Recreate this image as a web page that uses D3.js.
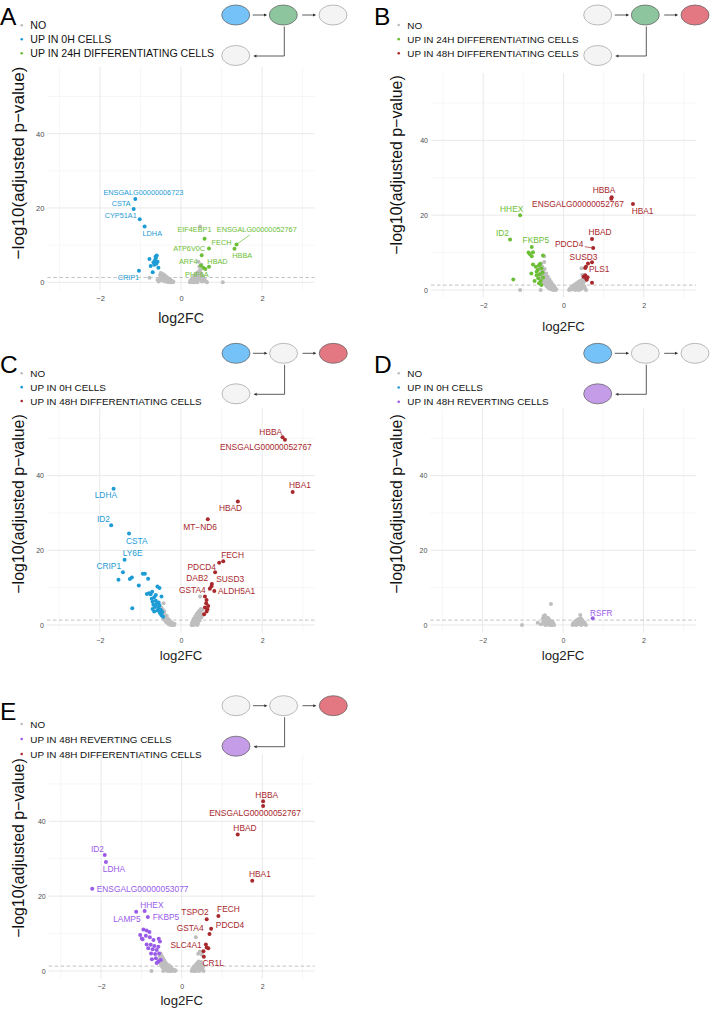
<!DOCTYPE html>
<html><head><meta charset="utf-8">
<script src="https://cdn.jsdelivr.net/npm/d3@7"></script>
<style>
body{margin:0;background:#fff}
svg{display:block}
text{font-family:"Liberation Sans",Arial,Helvetica,sans-serif}
</style>
</head><body>
<svg id="chart" width="712" height="1010"></svg>
<script>
// ---------- shared axis definitions ----------
const xDomain = [-3.3, 3.3];
const yDomain = [-2.07, 58];
const xTicks = [-2, 0, 2];
const xMinor = [-3, -1, 1, 3];
const yTicks = [0, 20, 40];
const yMinor = [10, 30, 50];
const threshold = 1.3;
const xTitle = "log2FC";
const yTitle = "\u2212log10(adjusted p\u2212value)";

const categoryNames = {
  NO: "NO",
  "0H": "UP IN 0H CELLS",
  "24D": "UP IN 24H DIFFERENTIATING CELLS",
  "48D": "UP IN 48H DIFFERENTIATING CELLS",
  "48R": "UP IN 48H REVERTING CELLS"
};

// ---------- data: panel A (0H vs 24H differentiating) ----------
const panelA_gray = [[-0.52,2.0],[-0.51,1.2],[-0.50,2.5],[-0.49,0.6],[-0.48,1.8],[-0.47,2.3],[-0.46,1.0],[-0.45,1.6],[-0.44,0.4],[-0.43,2.1],[-0.42,1.3],[-0.41,0.8],[-0.40,1.8],[-0.39,0.2],[-0.38,1.1],[-0.37,1.5],[-0.36,0.5],[-0.35,0.9],[-0.34,1.3],[-0.33,0.1],[-0.32,0.7],[-0.31,1.0],[-0.30,0.3],[-0.29,0.6],[-0.28,0.0],[-0.27,0.8],[-0.26,0.2],[-0.25,0.5],[-0.24,0.0],[-0.23,0.3],[-0.22,0.1],[-0.20,0.0],[-0.19,0.2],[-0.78,1.2],[-0.58,0.6],[-0.55,0.2],
  [0.22,0.0],[0.23,0.4],[0.25,0.1],[0.26,0.8],[0.27,0.3],[0.28,1.1],[0.29,0.0],[0.30,0.6],[0.31,1.4],[0.32,0.2],[0.33,1.0],[0.34,1.8],[0.35,0.4],[0.36,1.3],[0.37,2.2],[0.38,0.7],[0.39,1.6],[0.40,2.6],[0.41,0.2],[0.42,1.2],[0.43,2.0],[0.44,3.0],[0.45,0.9],[0.46,1.7],[0.47,2.6],[0.48,3.3],[0.49,1.3],[0.50,2.2],[0.52,0.6],[0.53,1.6],[0.55,0.3],[0.58,0.9],[0.62,0.2],[0.64,0.0],[0.47,15.0],[0.43,5.5],[0.50,4.8],[0.45,4.2],[1.03,0.0],[0.51,0.2],[0.40,0.0],[0.33,0.0]];
const panelA_cat1 = [[-0.78,6.3],[-0.75,4.4],[-0.70,2.7],[-0.68,5.4],[-0.66,4.7],[-0.64,6.0],[-0.62,6.6],[-0.60,7.2],[-0.58,5.5],[-0.56,3.9],[-0.63,6.9],[-0.61,5.0]];
const panelA_cat2 = [[0.60,3.6]];
// [gene, category, log2FC, -log10 p, label log2FC, label -log10 p, segment]
const panelA_genes = [
  ["ENSGALG00000006723","0H",-1.13,22.4,-0.93,24.2,0],
  ["CSTA","0H",-1.17,19.7,-1.48,21.1,0],
  ["CYP51A1","0H",-1.02,17.0,-1.49,17.9,0],
  ["LDHA","0H",-0.90,15.0,-0.71,13.1,0],
  ["CRIP1","0H",-1.04,3.1,-1.30,1.3,0],
  ["EIF4EBP1","24D",0.58,11.7,0.33,14.1,0],
  ["FECH","24D",0.69,9.1,1.00,10.8,0],
  ["ATP6V0C","24D",0.51,7.3,0.20,9.1,0],
  ["ENSGALG00000052767","24D",1.37,10.2,1.87,14.1,1],
  ["HBBA","24D",1.32,9.0,1.51,7.1,0],
  ["HBAD","24D",0.69,4.2,0.90,5.7,0],
  ["ARF4","24D",0.49,4.5,0.18,5.7,0],
  ["PHF6A","24D",0.55,3.9,0.39,2.0,0]
];

// ---------- data: panel B (24H vs 48H differentiating) ----------
const panelB_gray = [[-0.62,5.5],[-0.60,6.5],[-0.59,4.2],[-0.58,5.8],[-0.57,3.3],[-0.56,7.0],[-0.55,4.8],[-0.54,2.6],[-0.53,6.2],[-0.52,3.9],[-0.51,5.2],[-0.50,2.0],[-0.49,4.4],[-0.48,9.0],[-0.48,3.0],[-0.47,5.6],[-0.46,1.5],[-0.45,3.6],[-0.44,2.4],[-0.43,4.4],[-0.42,1.0],[-0.41,2.9],[-0.40,1.8],[-0.39,3.5],[-0.38,0.6],[-0.37,2.2],[-0.36,1.3],[-0.35,2.8],[-0.34,0.3],[-0.33,1.7],[-0.32,0.9],[-0.31,2.1],[-0.30,0.2],[-0.29,1.2],[-0.28,0.5],[-0.27,1.5],[-0.26,0.0],[-0.25,0.8],[-0.24,0.3],[-0.23,1.0],[-0.22,0.1],[-0.21,0.5],[-0.20,0.0],[-0.18,0.2],[-1.08,0.0],[-0.57,0.0],[-0.48,7.5],
  [0.14,0.0],[0.16,0.3],[0.18,0.1],[0.19,0.6],[0.21,0.2],[0.22,0.9],[0.24,0.4],[0.25,1.2],[0.27,0.1],[0.28,0.7],[0.29,1.5],[0.31,0.3],[0.32,1.0],[0.33,1.8],[0.35,0.5],[0.36,1.3],[0.37,2.1],[0.39,0.8],[0.40,1.6],[0.41,2.4],[0.43,0.2],[0.44,1.1],[0.45,1.9],[0.46,2.7],[0.48,0.6],[0.49,1.4],[0.50,2.2],[0.52,0.9],[0.54,0.3],[0.56,0.0],[0.47,4.0],[0.52,2.4],[0.50,3.2],[0.45,5.8],[0.30,0.0],[0.38,0.0]];
const panelB_cat1 = [[-0.87,10.0],[-0.84,9.6],[-0.79,9.0],[-0.76,10.1],[-0.51,9.2],[-1.25,2.8],[-0.76,6.8],[-0.69,6.2],[-0.61,6.6],[-0.55,5.8],[-0.80,4.4],[-0.67,4.9],[-0.59,4.2],[-0.52,4.7],[-0.72,2.4],[-0.63,3.1],[-0.57,2.4],[-0.51,3.3],[-0.61,1.8],[-0.55,1.3],[-0.67,3.9],[-0.64,5.4],[-0.58,7.0]];
const panelB_cat2 = [[0.56,6.2],[0.54,5.9],[0.50,3.5],[0.56,3.1],[0.58,2.7],[0.54,3.9],[0.71,1.9],[0.60,3.4]];
const panelB_genes = [
  ["HHEX","24D",-1.08,20.0,-1.29,21.7,0],
  ["ID2","24D",-1.33,13.5,-1.52,15.1,0],
  ["FKBP5","24D",-0.79,11.5,-0.69,13.3,0],
  ["HBBA","48D",1.20,24.8,1.01,26.6,0],
  ["ENSGALG00000052767","48D",1.19,24.4,0.36,22.9,0],
  ["HBA1","48D",1.73,23.0,1.97,21.1,0],
  ["HBAD","48D",0.71,13.6,0.91,15.5,0],
  ["PDCD4","48D",0.74,11.2,0.14,12.2,1],
  ["SUSD3","48D",0.61,7.1,0.50,8.9,0],
  ["PLS1","48D",0.71,7.4,0.89,5.5,0]
];

// ---------- data: panel C (0H vs 48H differentiating) ----------
const panelC_gray = [[-0.50,4.0],[-0.48,4.6],[-0.47,3.6],[-0.46,2.9],[-0.45,4.1],[-0.44,3.3],[-0.44,2.2],[-0.43,1.6],[-0.42,2.8],[-0.41,3.7],[-0.40,2.0],[-0.39,1.2],[-0.38,2.6],[-0.37,0.8],[-0.36,1.8],[-0.35,2.4],[-0.34,1.1],[-0.33,0.5],[-0.32,1.6],[-0.31,0.9],[-0.30,0.2],[-0.29,1.3],[-0.28,0.6],[-0.27,0.1],[-0.26,0.9],[-0.25,0.4],[-0.24,0.0],[-0.23,0.6],[-0.22,0.2],[-0.21,0.0],[-0.20,0.4],[-0.19,0.1],[-0.17,0.0],[-0.16,0.3],[-0.43,5.8],
  [0.26,0.0],[0.27,0.5],[0.28,0.2],[0.29,1.0],[0.30,0.3],[0.31,1.6],[0.32,0.7],[0.33,0.1],[0.34,1.2],[0.35,2.2],[0.36,0.5],[0.37,1.7],[0.38,2.8],[0.39,1.0],[0.40,2.2],[0.41,3.3],[0.42,0.4],[0.43,1.6],[0.44,2.7],[0.45,3.8],[0.46,1.2],[0.47,2.3],[0.48,3.2],[0.49,4.3],[0.50,2.0],[0.51,3.0],[0.52,4.0],[0.53,2.6],[0.47,7.6],[0.30,0.0],[0.40,0.0]];
const panelC_cat1 = [[-1.54,12.1],[-1.26,12.3],[-1.21,12.7],[-0.94,13.7],[-0.89,13.7],[-1.04,10.6],[-0.81,12.4],[-1.20,4.5],[-0.84,8.3],[-0.79,8.5],[-0.75,8.2],[-0.71,8.9],[-0.58,10.3],[-0.53,9.9],[-0.48,7.6],[-0.72,7.0],[-0.70,6.2],[-0.68,5.4],[-0.66,7.4],[-0.64,4.8],[-0.62,6.5],[-0.60,5.6],[-0.58,3.9],[-0.56,4.6],[-0.55,6.0],[-0.52,3.2],[-0.50,4.1],[-0.48,2.6],[-0.46,3.5],[-0.44,2.2],[-0.70,4.3],[-0.66,3.6],[-0.62,8.0],[-0.53,5.2]];
const panelC_cat2 = [[0.94,16.7],[0.59,7.6],[0.63,6.7],[0.62,5.8],[0.67,5.1],[0.59,4.7],[0.65,4.2],[0.57,2.9],[0.63,3.6]];
const panelC_genes = [
  ["LDHA","0H",-1.66,36.5,-1.85,34.7,0],
  ["ID2","0H",-1.72,26.7,-1.91,28.4,0],
  ["CSTA","0H",-1.28,24.5,-1.09,22.6,0],
  ["LY6E","0H",-1.39,17.5,-1.19,19.2,0],
  ["CRIP1","0H",-1.43,14.1,-1.78,15.7,0],
  ["HBBA","48D",2.50,50.3,2.21,51.8,0],
  ["ENSGALG00000052767","48D",2.56,49.6,2.09,47.6,0],
  ["HBA1","48D",2.75,35.6,2.93,37.4,0],
  ["HBAD","48D",1.40,33.1,1.22,31.4,0],
  ["MT\u2212ND6","48D",0.66,28.3,0.47,26.3,0],
  ["FECH","48D",1.04,17.1,1.27,18.8,0],
  ["PDCD4","48D",0.84,14.1,0.51,15.6,0],
  ["DAB2","48D",0.76,11.0,0.40,12.5,0],
  ["SUSD3","48D",0.75,10.4,1.21,12.2,0],
  ["GSTA4","48D",0.71,9.7,0.28,9.3,0],
  ["ALDH5A1","48D",0.82,9.1,1.37,9.1,0]
];

// ---------- data: panel D (0H vs 48H reverting) ----------
const panelD_gray = [[-1.02,0.0],[-0.63,0.6],[-0.30,5.6],[-0.50,1.8],[-0.49,0.9],[-0.48,2.4],[-0.47,0.3],[-0.46,1.4],[-0.45,2.6],[-0.44,0.0],[-0.43,1.0],[-0.42,2.0],[-0.41,0.5],[-0.40,1.5],[-0.39,0.1],[-0.38,1.1],[-0.37,1.9],[-0.36,0.3],[-0.35,0.8],[-0.34,1.4],[-0.33,0.0],[-0.32,0.6],[-0.31,1.0],[-0.30,0.2],[-0.29,0.7],[-0.28,0.0],[-0.27,0.4],[-0.26,0.9],[-0.25,0.1],[-0.24,0.3],[-0.22,0.0],[-0.55,0.2],
  [0.24,0.0],[0.25,0.4],[0.27,0.1],[0.28,0.7],[0.30,0.2],[0.31,1.0],[0.33,0.0],[0.34,0.5],[0.35,1.3],[0.37,0.2],[0.38,0.8],[0.39,1.6],[0.41,0.4],[0.42,1.1],[0.43,2.7],[0.44,1.8],[0.45,0.0],[0.46,0.7],[0.47,1.4],[0.49,0.2],[0.50,0.9],[0.52,0.3],[0.54,0.6],[0.57,0.0]];
const panelD_cat1 = [];
const panelD_cat2 = [];
const panelD_genes = [["RSFR","48R",0.74,1.8,0.95,3.3,0]];

// ---------- data: panel E (48H reverting vs 48H differentiating) ----------
const panelE_gray = [[-0.75,0.0],[-0.56,3.0],[-0.55,4.2],[-0.54,2.2],[-0.53,3.6],[-0.52,4.7],[-0.51,1.6],[-0.50,2.9],[-0.49,3.9],[-0.48,1.0],[-0.47,2.4],[-0.46,3.3],[-0.45,0.6],[-0.44,1.8],[-0.43,2.8],[-0.42,0.3],[-0.41,1.3],[-0.40,2.2],[-0.39,0.1],[-0.38,0.9],[-0.37,1.8],[-0.36,0.4],[-0.35,1.3],[-0.34,0.0],[-0.33,0.8],[-0.32,1.5],[-0.31,0.3],[-0.30,1.0],[-0.29,0.0],[-0.28,0.6],[-0.27,1.1],[-0.26,0.2],[-0.25,0.7],[-0.24,0.0],[-0.23,0.4],[-0.21,0.1],[-0.19,0.3],[-0.17,0.0],[-0.15,0.1],[-0.46,0.0],
  [0.25,0.0],[0.26,0.4],[0.27,0.1],[0.28,0.8],[0.29,0.3],[0.30,1.1],[0.31,0.0],[0.32,0.6],[0.33,1.4],[0.34,0.2],[0.35,9.0],[0.35,0.9],[0.36,1.8],[0.37,0.4],[0.38,1.3],[0.39,2.1],[0.40,0.7],[0.41,4.6],[0.41,1.6],[0.42,2.5],[0.43,0.2],[0.44,1.1],[0.45,5.2],[0.45,2.0],[0.46,0.6],[0.47,1.5],[0.48,2.4],[0.49,0.9],[0.50,4.3],[0.50,1.8],[0.52,0.4],[0.53,1.2],[0.54,0.0],[0.44,0.0],[0.36,0.0]];
const panelE_cat1 = [[-0.95,11.1],[-0.87,10.8],[-0.80,10.4],[-0.89,9.4],[-0.79,9.0],[-0.97,8.5],[-0.70,8.3],[-0.57,8.6],[-0.54,7.9],[-0.87,7.1],[-0.77,7.0],[-0.68,6.7],[-0.58,6.5],[-0.83,6.1],[-0.72,5.8],[-0.62,5.6],[-0.76,4.7],[-0.66,4.5],[-0.56,4.7],[-0.74,3.1],[-0.64,3.4],[-0.58,2.5],[-0.52,2.9],[-0.62,2.1],[-1.03,9.6],[-0.99,8.7]];
const panelE_cat2 = [[0.62,6.3],[0.66,6.1],[0.54,5.3]];
const panelE_genes = [
  ["ID2","48R",-1.91,31.0,-2.09,32.6,0],
  ["LDHA","48R",-1.88,29.1,-1.68,27.2,0],
  ["ENSGALG00000053077","48R",-2.22,22.0,-0.97,21.9,0],
  ["HHEX","48R",-0.92,16.0,-0.74,17.6,0],
  ["LAMP5","48R",-1.13,15.8,-1.36,13.8,0],
  ["FKBP5","48R",-0.84,14.4,-0.39,14.4,0],
  ["HBBA","48D",2.02,45.4,2.11,47.1,0],
  ["ENSGALG00000052767","48D",2.02,44.1,1.82,42.2,0],
  ["HBAD","48D",1.39,36.5,1.57,38.2,0],
  ["HBA1","48D",1.75,24.1,1.94,25.9,0],
  ["FECH","48D",0.91,14.7,1.16,16.5,0],
  ["TSPO2","48D",0.62,13.8,0.33,15.7,0],
  ["PDCD4","48D",0.73,11.3,1.20,12.3,0],
  ["GSTA4","48D",0.69,9.9,0.21,11.5,0],
  ["SLC4A1","48D",0.60,7.1,0.11,6.95,0],
  ["CR1L","48D",0.55,3.8,0.78,2.1,0]
];

// ---------- styles ----------
const pointColor = {NO:"#BEBEBE","0H":"#1D9BD5","24D":"#6CBE36","48D":"#A8282C","48R":"#9A5BE9"};
const schemFill = {"0H":"#74C2F7","24D":"#8DC59E","48D":"#E37882","48R":"#C59CE8",NO:"#F4F4F4"};

// ---------- layout ----------
const panels = [
  {letter:"A", lx:0, ly:25, box:[47.4,314.7,66.8,290], fs:1.075, lab:7.3,
   legX:21.7, legY:25.3, legStep:14, legFont:10.6, yt:[24,163], xtY:323,
   schem:[235.7,15], schemCats:["0H","24D","NO","NO"], cats:["0H","24D"],
   gray:panelA_gray, c1:panelA_cat1, c2:panelA_cat2, genes:panelA_genes},
  {letter:"B", lx:374, ly:25, box:[431,696,73,297.7], fs:1, lab:8.4,
   legX:398.7, legY:25, legStep:14.15, legFont:9.9, yt:[402,165], xtY:331,
   schem:[597.7,15], schemCats:["NO","24D","48D","NO"], cats:["24D","48D"],
   gray:panelB_gray, c1:panelB_cat1, c2:panelB_cat2, genes:panelB_genes},
  {letter:"C", lx:0, ly:372.7, box:[47,315,408.5,632.7], fs:1, lab:8.4,
   legX:21.7, legY:373.3, legStep:13.85, legFont:9.9, yt:[23.5,504], xtY:660,
   schem:[236,353.3], schemCats:["0H","NO","48D","NO"], cats:["0H","48D"],
   gray:panelC_gray, c1:panelC_cat1, c2:panelC_cat2, genes:panelC_genes},
  {letter:"D", lx:374, ly:373.3, box:[430.3,695.7,408.5,632.7], fs:1, lab:8.2,
   legX:398.7, legY:373.3, legStep:14.2, legFont:9.9, yt:[402,504], xtY:660,
   schem:[597.7,353.3], schemCats:["0H","NO","NO","48R"], cats:["0H","48R"],
   gray:panelD_gray, c1:panelD_cat1, c2:panelD_cat2, genes:panelD_genes},
  {letter:"E", lx:0, ly:720, box:[48.7,314.7,754,978.7], fs:1, lab:8.4,
   legX:21.7, legY:724, legStep:15, legFont:9.9, yt:[23.5,848], xtY:1005,
   schem:[236,705.7], schemCats:["NO","NO","48D","48R"], cats:["48R","48D"],
   gray:panelE_gray, c1:panelE_cat1, c2:panelE_cat2, genes:panelE_genes}
];

const svg = d3.select("#chart");
const FONT = '"Liberation Sans",Arial,Helvetica,sans-serif';
const R = 2;

function arrowHead(g, x, y, dir) {
  const s = dir === "right" ? 1 : -1;
  g.append("path")
    .attr("d", `M${x},${y} L${x - s*3.2},${y - 1.5} L${x - s*3.2},${y + 1.5} Z`)
    .attr("fill", "#333");
}

function drawSchematic(g, ox, oy, cats) {
  const pos = [[ox, oy], [ox + 47.6, oy], [ox + 97.3, oy], [ox, oy + 40.5]];
  const s = g.append("g");
  s.append("line").attr("x1", ox + 17).attr("x2", ox + 30).attr("y1", oy).attr("y2", oy)
    .attr("stroke", "#333").attr("stroke-width", 0.8);
  arrowHead(s, ox + 31.5, oy, "right");
  s.append("line").attr("x1", ox + 66.5).attr("x2", ox + 79).attr("y1", oy).attr("y2", oy)
    .attr("stroke", "#333").attr("stroke-width", 0.8);
  arrowHead(s, ox + 80.5, oy, "right");
  s.append("path")
    .attr("d", `M${ox + 48.6},${oy + 11.5} L${ox + 48.6},${oy + 41} L${ox + 20},${oy + 41}`)
    .attr("fill", "none").attr("stroke", "#333").attr("stroke-width", 0.8);
  arrowHead(s, ox + 17.5, oy + 41, "left");
  s.selectAll("ellipse").data(pos).join("ellipse")
    .attr("cx", d => d[0]).attr("cy", d => d[1]).attr("rx", 14).attr("ry", 10)
    .attr("fill", (d, i) => schemFill[cats[i]])
    .attr("stroke", (d, i) => cats[i] === "NO" ? "#9E9E9E" : "#5A5A5A")
    .attr("stroke-width", 0.7);
}

function drawPanel(p) {
  const g = svg.append("g");
  const [L, Rr, T, B] = p.box;
  const x = d3.scaleLinear().domain(xDomain).range([L, Rr]);
  const y = d3.scaleLinear().domain(yDomain).range([B, T]);

  // grid
  g.selectAll(null).data(xMinor).join("line")
    .attr("x1", d => x(d)).attr("x2", d => x(d)).attr("y1", T).attr("y2", B)
    .attr("stroke", "#F0F0F0").attr("stroke-width", 0.6);
  g.selectAll(null).data(yMinor).join("line")
    .attr("y1", d => y(d)).attr("y2", d => y(d)).attr("x1", L).attr("x2", Rr)
    .attr("stroke", "#F0F0F0").attr("stroke-width", 0.6);
  g.selectAll(null).data(xTicks).join("line")
    .attr("x1", d => x(d)).attr("x2", d => x(d)).attr("y1", T).attr("y2", B)
    .attr("stroke", "#E6E6E6").attr("stroke-width", 0.9);
  g.selectAll(null).data(yTicks).join("line")
    .attr("y1", d => y(d)).attr("y2", d => y(d)).attr("x1", L).attr("x2", Rr)
    .attr("stroke", "#E6E6E6").attr("stroke-width", 0.9);

  // axes
  const tf = 7 * p.fs;
  const ya = g.append("g").attr("transform", `translate(${L},0)`)
    .call(d3.axisLeft(y).tickValues(yTicks).tickSize(0).tickPadding(3));
  ya.select(".domain").remove();
  ya.attr("font-family", FONT).attr("font-size", tf);
  ya.selectAll("text").attr("fill", "#4D4D4D");
  const xa = g.append("g").attr("transform", `translate(0,${B})`)
    .call(d3.axisBottom(x).tickValues(xTicks).tickSize(0).tickPadding(5.5)
      .tickFormat(d => d < 0 ? "\u2212" + Math.abs(d) : String(d)));
  xa.select(".domain").remove();
  xa.attr("font-family", FONT).attr("font-size", tf);
  xa.selectAll("text").attr("fill", "#4D4D4D");

  // threshold
  g.append("line").attr("x1", L).attr("x2", Rr).attr("y1", y(threshold)).attr("y2", y(threshold))
    .attr("stroke", "#A8A8A8").attr("stroke-width", 0.7).attr("stroke-dasharray", "3.5,2.5");

  // points
  const drawPts = (arr, col) => g.append("g").selectAll("circle").data(arr).join("circle")
    .attr("cx", d => x(d[0])).attr("cy", d => y(d[1])).attr("r", R).attr("fill", col);
  drawPts(p.gray, pointColor.NO);
  drawPts(p.c1, pointColor[p.cats[0]]);
  drawPts(p.c2, pointColor[p.cats[1]]);
  g.append("g").selectAll("circle").data(p.genes).join("circle")
    .attr("cx", d => x(d[2])).attr("cy", d => y(d[3])).attr("r", R)
    .attr("fill", d => pointColor[d[1]]);

  // labels
  const lg = g.append("g");
  p.genes.forEach(d => {
    const t = lg.append("text").attr("x", x(d[4])).attr("y", y(d[5])).attr("dy", "0.35em")
      .attr("text-anchor", "middle").attr("font-size", p.lab).attr("fill", pointColor[d[1]])
      .text(d[0]);
    if (d[6]) {
      const bb = t.node().getBBox();
      const px = x(d[2]), py = y(d[3]);
      const cx = bb.x + bb.width / 2, cy = bb.y + bb.height / 2;
      const dx = px - cx, dy = py - cy;
      const sx = (bb.width / 2 + 1) / Math.abs(dx || 1e-6), sy = (bb.height / 2 + 0.5) / Math.abs(dy || 1e-6);
      const s = Math.min(sx, sy);
      lg.append("line").attr("x1", cx + dx * s).attr("y1", cy + dy * s).attr("x2", px).attr("y2", py)
        .attr("stroke", pointColor[d[1]]).attr("stroke-width", 0.7);
    }
  });

  // axis titles
  g.append("text").attr("x", (L + Rr) / 2).attr("y", p.xtY).attr("text-anchor", "middle")
    .attr("font-size", 13.2 * p.fs).attr("fill", "#222").text(xTitle);
  g.append("text").attr("transform", `translate(${p.yt[0]},${p.yt[1]}) rotate(-90)`)
    .attr("text-anchor", "middle").attr("font-size", 15.9 * p.fs).attr("fill", "#111").text(yTitle);

  // legend
  const rows = ["NO", p.cats[0], p.cats[1]];
  rows.forEach((c, i) => {
    const yy = p.legY + i * p.legStep;
    g.append("circle").attr("cx", p.legX).attr("cy", yy).attr("r", 1.3).attr("fill", pointColor[c]);
    g.append("text").attr("x", p.legX + 8.6).attr("y", yy).attr("dy", "0.36em")
      .attr("font-size", p.legFont).attr("fill", "#111").text(categoryNames[c]);
  });

  // panel letter
  g.append("text").attr("x", p.lx).attr("y", p.ly).attr("font-size", 24.5).attr("fill", "#000").text(p.letter);

  // schematic
  drawSchematic(g, p.schem[0], p.schem[1], p.schemCats);
}

panels.forEach(drawPanel);
</script>
</body></html>
